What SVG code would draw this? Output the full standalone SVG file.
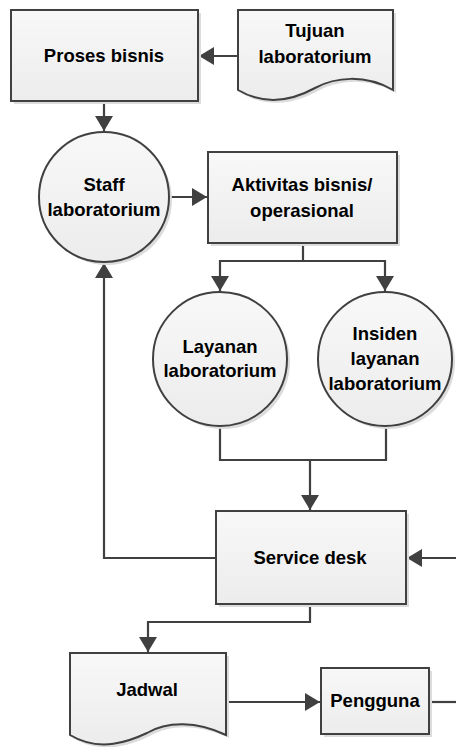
<svg xmlns="http://www.w3.org/2000/svg" width="456" height="747" viewBox="0 0 456 747">
<defs>
<linearGradient id="g" x1="0" y1="0" x2="0" y2="1">
<stop offset="0" stop-color="#f8f8f8"/>
<stop offset="1" stop-color="#ececec"/>
</linearGradient>
<marker id="ah" markerUnits="userSpaceOnUse" markerWidth="16" markerHeight="18" refX="15" refY="9" orient="auto">
<path d="M0,0 L15,9 L0,18 Z" fill="#404040"/>
</marker>
<style>
.s{fill:#dcdcdc;stroke:none}
.n{fill:url(#g);stroke:#404040;stroke-width:2}
.t{font-family:"Liberation Sans",Arial,sans-serif;font-weight:bold;font-size:18.5px;fill:#000;text-anchor:middle}
.c{fill:none;stroke:#404040;stroke-width:2.2}
</style>
</defs>
<g id="connectors">
<path class="c" d="M238,56 H199" marker-end="url(#ah)"/>
<path class="c" d="M104,101 V131" marker-end="url(#ah)"/>
<path class="c" d="M168,197 H207" marker-end="url(#ah)"/>
<path class="c" d="M303,243 V261 H220 V291" marker-end="url(#ah)"/>
<path class="c" d="M303,261 H385 V291" marker-end="url(#ah)"/>
<path class="c" d="M220,425 V460 H386 V425"/>
<path class="c" d="M310,460 V510" marker-end="url(#ah)"/>
<path class="c" d="M216,558 H104 V263" marker-end="url(#ah)"/>
<path class="c" d="M456,558 H407" marker-end="url(#ah)"/>
<path class="c" d="M310,604 V622 H148 V652" marker-end="url(#ah)"/>
<path class="c" d="M226,702 H320" marker-end="url(#ah)"/>
<path class="c" d="M429,702 H456"/>
</g>
<g id="proses-bisnis">
<rect class="s" x="14" y="13" width="187" height="91"/>
<rect class="n" x="11" y="10" width="187" height="91"/>
<text class="t" x="104" y="62">Proses bisnis</text>
</g>
<g id="tujuan-laboratorium">
<path class="s" d="M241,13 H396 V93 C368,77 338,80 318,91 C298,102 270,110 241,93 Z"/>
<path class="n" d="M238,10 H393 V90 C365,74 335,77 315,88 C295,99 267,107 238,90 Z"/>
<text class="t" x="315" y="37">Tujuan</text>
<text class="t" x="315" y="63">laboratorium</text>
</g>
<g id="staff-laboratorium">
<circle class="s" cx="107" cy="200" r="65"/>
<circle class="n" cx="104" cy="197" r="65"/>
<text class="t" x="104" y="191">Staff</text>
<text class="t" x="104" y="216">laboratorium</text>
</g>
<g id="aktivitas">
<rect class="s" x="211" y="155" width="189" height="91"/>
<rect class="n" x="208" y="152" width="189" height="91"/>
<text class="t" x="302" y="191">Aktivitas bisnis/</text>
<text class="t" x="302" y="217">operasional</text>
</g>
<g id="layanan-laboratorium">
<circle class="s" cx="223" cy="362" r="67"/>
<circle class="n" cx="220" cy="359" r="67"/>
<text class="t" x="220" y="353">Layanan</text>
<text class="t" x="220" y="377">laboratorium</text>
</g>
<g id="insiden-layanan">
<circle class="s" cx="388" cy="362" r="67"/>
<circle class="n" cx="385" cy="359" r="67"/>
<text class="t" x="385" y="340">Insiden</text>
<text class="t" x="385" y="365">layanan</text>
<text class="t" x="385" y="390">laboratorium</text>
</g>
<g id="service-desk">
<rect class="s" x="219" y="514" width="190" height="93"/>
<rect class="n" x="216" y="511" width="190" height="93"/>
<text class="t" x="310" y="564">Service desk</text>
</g>
<g id="jadwal">
<path class="s" d="M73,656 H229 V738 C200,724 170,724 150,736 C133,744 103,756 73,738 Z"/>
<path class="n" d="M70,653 H226 V735 C197,721 167,721 147,733 C130,741 100,753 70,735 Z"/>
<text class="t" x="147" y="696">Jadwal</text>
</g>
<g id="pengguna">
<rect class="s" x="324" y="671" width="108" height="66"/>
<rect class="n" x="321" y="668" width="108" height="66"/>
<text class="t" x="375" y="707">Pengguna</text>
</g>
</svg>
